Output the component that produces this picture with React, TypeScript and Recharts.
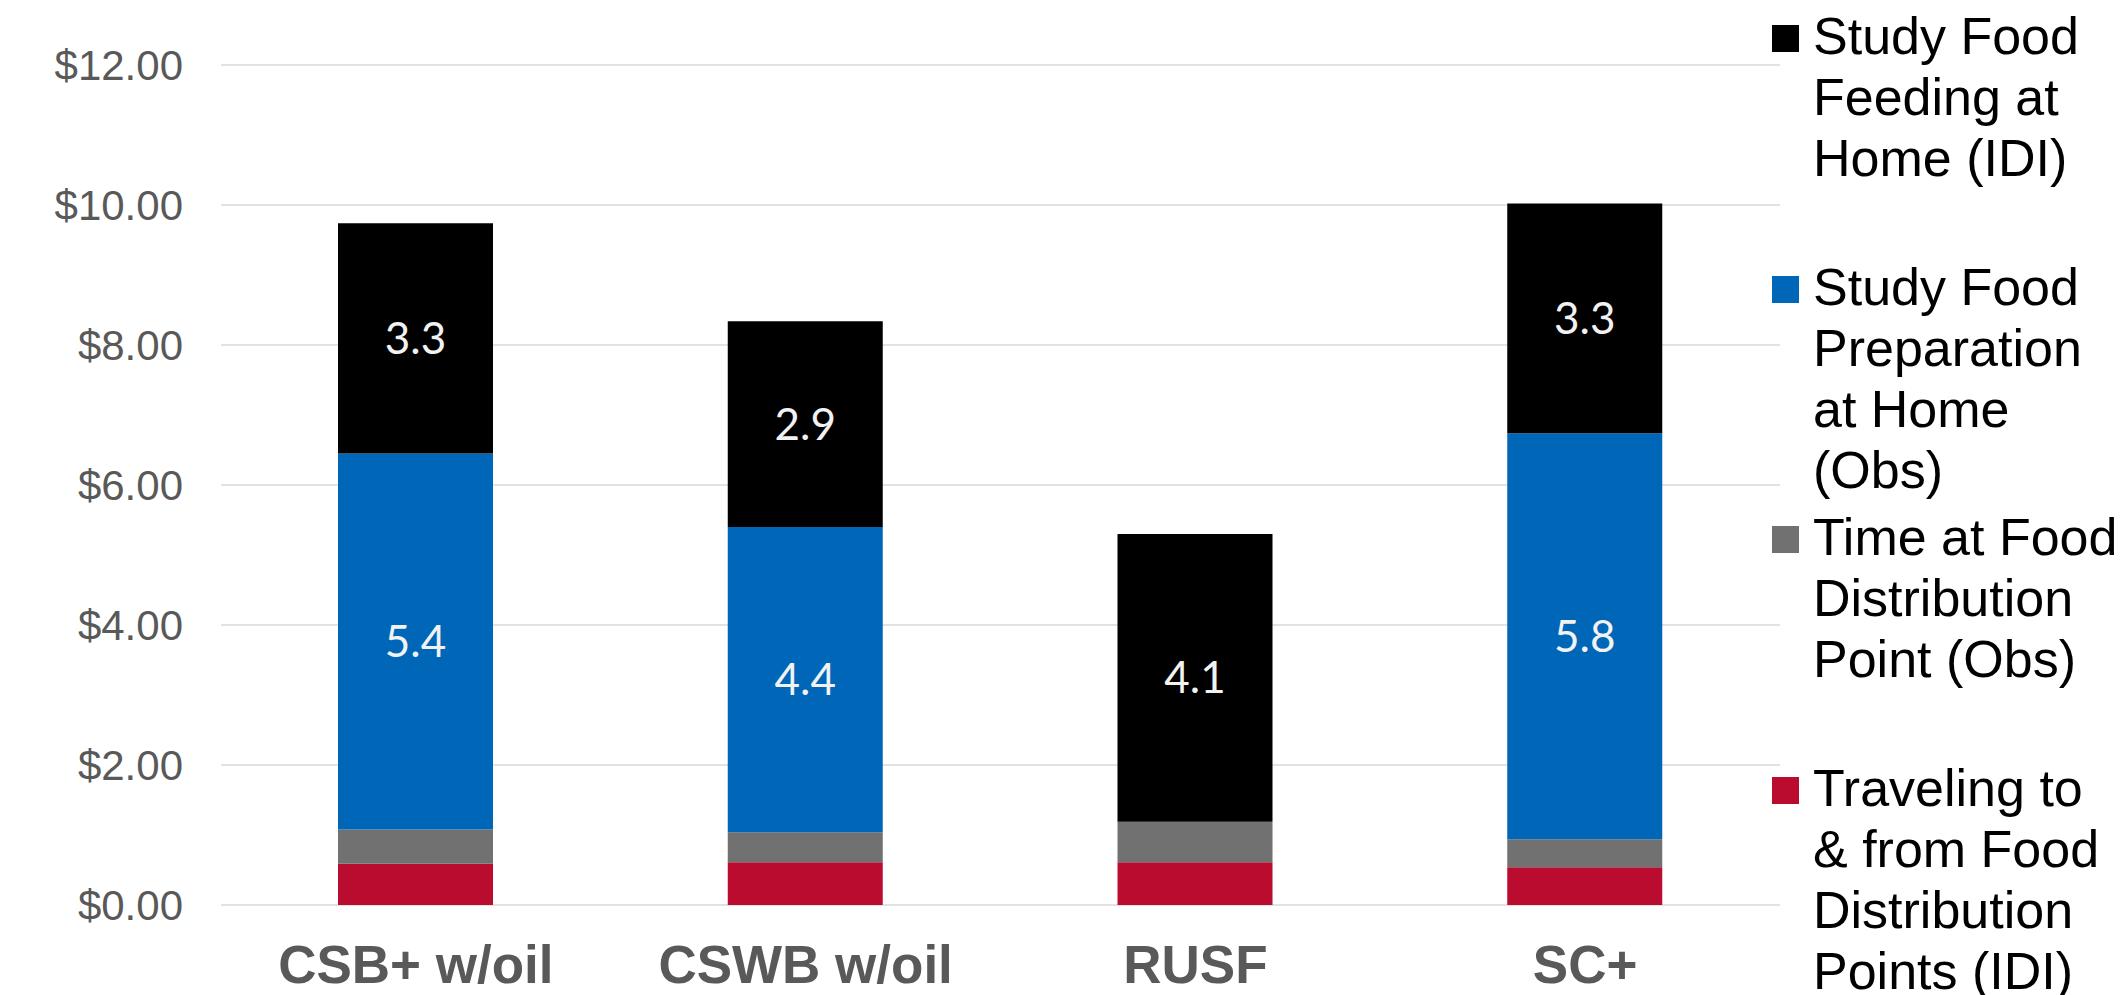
import React from 'react';
import { BarChart, Bar, XAxis, YAxis, CartesianGrid, LabelList, Legend } from 'recharts';

const categories = ['CSB+ w/oil', 'CSWB w/oil', 'RUSF', 'SC+'];
const travelingValues = [0.59, 0.61, 0.61, 0.54];
const distributionValues = [0.49, 0.43, 0.58, 0.4];
const preparationValues = [5.37, 4.36, 0, 5.8];
const feedingValues = [3.29, 2.94, 4.11, 3.28];
const yTicks = [0, 2, 4, 6, 8, 10, 12];

const seriesKeys = ['traveling', 'distribution', 'preparation', 'feeding'];
const seriesColors = ['#BA0C2F', '#717171', '#0066B8', '#000000'];
const legendOrder = ['feeding', 'preparation', 'distribution', 'traveling'];
const legendLines: Record<string, string[]> = {
  feeding: ['Study Food', 'Feeding at', 'Home (IDI)'],
  preparation: ['Study Food', 'Preparation', 'at Home', '(Obs)'],
  distribution: ['Time at Food', 'Distribution', 'Point (Obs)'],
  traveling: ['Traveling to', '& from Food', 'Distribution', 'Points (IDI)'],
};

const data = categories.map((name, i) => ({
  name,
  traveling: travelingValues[i],
  distribution: distributionValues[i],
  preparation: preparationValues[i],
  feeding: feedingValues[i],
}));

const fmtLabel = (v: any) => (typeof v === 'number' && v > 0 ? v.toFixed(1) : '');

const renderLegend = (props: any) => {
  const payload: any[] = props.payload || [];
  const items = legendOrder.map((key) => {
    const found = payload.find((p: any) => p.dataKey === key);
    return { key, color: found ? found.color : seriesColors[seriesKeys.indexOf(key)] };
  });
  return (
    <div style={{ position: 'relative', width: 355, height: 995 }}>
      {items.map((entry, i) => (
        <div
          key={entry.key}
          style={{ position: 'absolute', top: 6 + i * 250.7, left: 0, display: 'flex', alignItems: 'flex-start' }}
        >
          <div style={{ width: 27, height: 27, background: entry.color, marginTop: 19, flex: 'none' }} />
          <div
            style={{
              marginLeft: 14,
              fontFamily: '"Liberation Sans", Arial, sans-serif',
              fontSize: 52,
              lineHeight: '61px',
              color: '#000',
              whiteSpace: 'nowrap',
              textAlign: 'left',
            }}
          >
            {(legendLines[entry.key] || []).map((l, j) => (
              <div key={j}>{l}</div>
            ))}
          </div>
        </div>
      ))}
    </div>
  );
};

const labelStyle = {
  fill: '#F2F2F2',
  fontFamily: 'Lato, "Open Sans", sans-serif',
  fontSize: 44,
};

export default function App() {
  return (
    <div style={{ position: 'absolute', left: 0, top: 0, width: 2127, height: 995, background: '#fff' }}>
      <style>{`body{margin:0;overflow:hidden}`}</style>
      <BarChart
        width={2127}
        height={995}
        data={data}
        margin={{ top: 65, right: 347, left: 0, bottom: 0 }}
        barSize={155}
      >
        <CartesianGrid vertical={false} stroke="#D9D9D9" strokeWidth={1.5} />
        <XAxis
          dataKey="name"
          axisLine={false}
          tickLine={false}
          tickSize={0}
          tickMargin={40}
          height={90}
          interval={0}
          tick={{ fill: '#595959', fontSize: 53, fontWeight: 'bold', fontFamily: '"Liberation Sans", Arial, sans-serif' }}
        />
        <YAxis
          domain={[0, 12]}
          ticks={yTicks}
          width={221}
          axisLine={false}
          tickLine={false}
          tickSize={0}
          tickMargin={38}
          tickFormatter={(v: number) => `$${v.toFixed(2)}`}
          tick={{ fill: '#595959', fontSize: 42, fontFamily: '"Liberation Sans", Arial, sans-serif' }}
        />
        <Legend
          layout="horizontal"
          verticalAlign="middle"
          align="center"
          content={renderLegend}
          wrapperStyle={{ position: 'absolute', left: 1772, top: 0, width: 355, height: 995, margin: 0 }}
        />
        {seriesKeys.map((k, i) => (
          <Bar key={k} dataKey={k} stackId="a" fill={seriesColors[i]} isAnimationActive={false}>
            {(k === 'preparation' || k === 'feeding') && (
              <LabelList dataKey={k} position="center" formatter={fmtLabel} style={labelStyle} />
            )}
          </Bar>
        ))}
      </BarChart>
    </div>
  );
}
